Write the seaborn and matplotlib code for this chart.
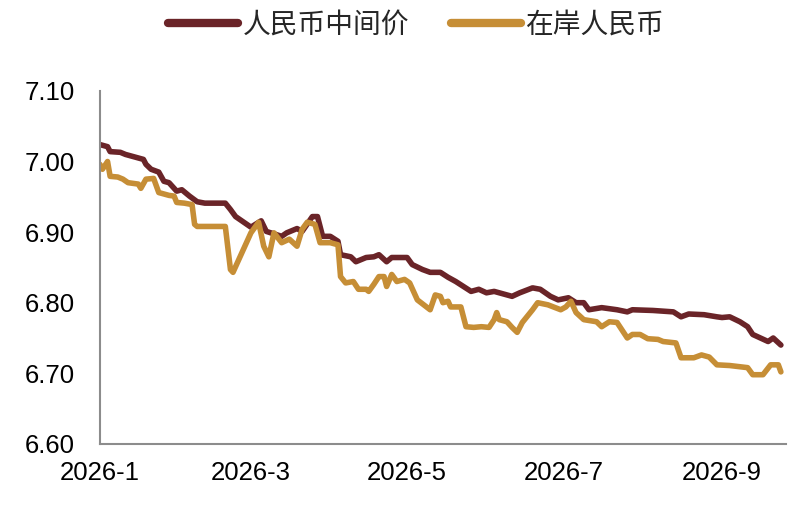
import matplotlib
matplotlib.use("Agg")
import matplotlib.pyplot as plt
import numpy as np
import pandas as pd
import seaborn as sns

# 人民币中间价
mid_dates = ['2026-01-01', '2026-01-04', '2026-01-05', '2026-01-09', '2026-01-11', '2026-01-14',
             '2026-01-18', '2026-01-19', '2026-01-21', '2026-01-24', '2026-01-26', '2026-01-28',
             '2026-01-31', '2026-02-02', '2026-02-05', '2026-02-08', '2026-02-11', '2026-02-19',
             '2026-02-21', '2026-02-23', '2026-03-01', '2026-03-05', '2026-03-07', '2026-03-13',
             '2026-03-15', '2026-03-19', '2026-03-21', '2026-03-25', '2026-03-27', '2026-03-29',
             '2026-04-01', '2026-04-04', '2026-04-05', '2026-04-09', '2026-04-11', '2026-04-15',
             '2026-04-18', '2026-04-20', '2026-04-23', '2026-04-25', '2026-05-01', '2026-05-03',
             '2026-05-07', '2026-05-10', '2026-05-14', '2026-05-17', '2026-05-20', '2026-05-23',
             '2026-05-26', '2026-05-29', '2026-06-01', '2026-06-04', '2026-06-06', '2026-06-11',
             '2026-06-14', '2026-06-19', '2026-06-22', '2026-06-26', '2026-06-29', '2026-07-03',
             '2026-07-06', '2026-07-09', '2026-07-11', '2026-07-16', '2026-07-22', '2026-07-26',
             '2026-07-28', '2026-08-05', '2026-08-13', '2026-08-16', '2026-08-19', '2026-08-25',
             '2026-08-30', '2026-09-01', '2026-09-04', '2026-09-08', '2026-09-11', '2026-09-13',
             '2026-09-16', '2026-09-19', '2026-09-21', '2026-09-24']
mid_values = [7.024, 7.021, 7.014, 7.013, 7.010, 7.007,
              7.003, 6.996, 6.989, 6.985, 6.972, 6.970,
              6.958, 6.960, 6.951, 6.943, 6.941, 6.941,
              6.932, 6.922, 6.907, 6.916, 6.901, 6.894,
              6.899, 6.905, 6.901, 6.922, 6.922, 6.894,
              6.894, 6.887, 6.868, 6.865, 6.858, 6.864,
              6.865, 6.868, 6.858, 6.864, 6.864, 6.854,
              6.847, 6.843, 6.843, 6.836, 6.830, 6.823,
              6.816, 6.819, 6.814, 6.816, 6.814, 6.809,
              6.814, 6.821, 6.819, 6.809, 6.804, 6.807,
              6.800, 6.800, 6.790, 6.793, 6.790, 6.787,
              6.790, 6.789, 6.787, 6.780, 6.784, 6.783,
              6.780, 6.779, 6.780, 6.773, 6.766, 6.755,
              6.750, 6.745, 6.750, 6.740]

# 在岸人民币
onshore_dates = ['2026-01-01', '2026-01-02', '2026-01-04', '2026-01-05', '2026-01-08', '2026-01-10',
                 '2026-01-12', '2026-01-16', '2026-01-17', '2026-01-19', '2026-01-22', '2026-01-24',
                 '2026-01-28', '2026-01-30', '2026-01-31', '2026-02-03', '2026-02-06', '2026-02-07',
                 '2026-02-08', '2026-02-19', '2026-02-21', '2026-02-22', '2026-03-01', '2026-03-04',
                 '2026-03-06', '2026-03-08', '2026-03-10', '2026-03-13', '2026-03-16', '2026-03-19',
                 '2026-03-21', '2026-03-23', '2026-03-26', '2026-03-28', '2026-04-01', '2026-04-04',
                 '2026-04-05', '2026-04-07', '2026-04-10', '2026-04-12', '2026-04-15', '2026-04-16',
                 '2026-04-18', '2026-04-20', '2026-04-22', '2026-04-23', '2026-04-25', '2026-04-27',
                 '2026-04-30', '2026-05-02', '2026-05-05', '2026-05-10', '2026-05-12', '2026-05-14',
                 '2026-05-15', '2026-05-17', '2026-05-18', '2026-05-22', '2026-05-24', '2026-05-27',
                 '2026-05-30', '2026-06-02', '2026-06-04', '2026-06-05', '2026-06-06', '2026-06-09',
                 '2026-06-11', '2026-06-13', '2026-06-15', '2026-06-19', '2026-06-21', '2026-06-25',
                 '2026-06-30', '2026-07-02', '2026-07-04', '2026-07-06', '2026-07-09', '2026-07-14',
                 '2026-07-16', '2026-07-19', '2026-07-22', '2026-07-26', '2026-07-28', '2026-07-31',
                 '2026-08-03', '2026-08-07', '2026-08-09', '2026-08-14', '2026-08-16', '2026-08-21',
                 '2026-08-24', '2026-08-27', '2026-08-30', '2026-09-04', '2026-09-11', '2026-09-13',
                 '2026-09-17', '2026-09-20', '2026-09-23', '2026-09-24']
onshore_values = [6.996, 6.989, 7.000, 6.979, 6.978, 6.975,
                  6.970, 6.968, 6.962, 6.975, 6.976, 6.956,
                  6.952, 6.951, 6.942, 6.941, 6.939, 6.911,
                  6.908, 6.908, 6.847, 6.843, 6.899, 6.914,
                  6.880, 6.865, 6.899, 6.885, 6.890, 6.880,
                  6.904, 6.914, 6.911, 6.885, 6.885, 6.882,
                  6.837, 6.828, 6.830, 6.819, 6.819, 6.816,
                  6.826, 6.837, 6.837, 6.823, 6.840, 6.830,
                  6.833, 6.828, 6.804, 6.790, 6.811, 6.809,
                  6.800, 6.802, 6.794, 6.794, 6.766, 6.765,
                  6.766, 6.765, 6.776, 6.786, 6.776, 6.773,
                  6.765, 6.758, 6.772, 6.790, 6.800, 6.797,
                  6.790, 6.794, 6.802, 6.786, 6.776, 6.773,
                  6.766, 6.773, 6.772, 6.750, 6.755, 6.755,
                  6.749, 6.748, 6.745, 6.743, 6.722, 6.722,
                  6.726, 6.723, 6.712, 6.711, 6.708, 6.698,
                  6.698, 6.712, 6.712, 6.702]

xtick_dates = ['2026-01-01', '2026-03-01', '2026-05-01', '2026-07-01', '2026-09-01']
xtick_labels = ['2026-1', '2026-3', '2026-5', '2026-7', '2026-9']
ytick_values = [6.60, 6.70, 6.80, 6.90, 7.00, 7.10]

#%%
df_mid = pd.DataFrame({'date': pd.to_datetime(mid_dates), 'value': mid_values})
df_on = pd.DataFrame({'date': pd.to_datetime(onshore_dates), 'value': onshore_values})

sns.set_style('white')
plt.rcParams['font.family'] = ['Liberation Sans', 'Noto Sans CJK SC', 'DejaVu Sans']

fig = plt.figure(figsize=(8.12, 5.05), dpi=100)
ax = fig.add_axes([0.123, 0.121, 0.845, 0.699])

sns.lineplot(data=df_mid, x='date', y='value', ax=ax, color='#6A2428', lw=4, label='人民币中间价')
sns.lineplot(data=df_on, x='date', y='value', ax=ax, color='#C68E36', lw=4, label='在岸人民币')

ax.set_xlim(pd.Timestamp('2026-01-01'), pd.Timestamp('2026-09-26'))
ax.set_ylim(6.60, 7.10)
ax.set_yticks(ytick_values)
ax.set_yticklabels(['%.2f' % v for v in ytick_values])
ax.set_xticks(pd.to_datetime(xtick_dates))
ax.set_xticklabels(xtick_labels)
ax.set_xlabel('')
ax.set_ylabel('')

for s in ['top', 'right']:
    ax.spines[s].set_visible(False)
for s in ['left', 'bottom']:
    ax.spines[s].set_color('#8C8C8C')
    ax.spines[s].set_linewidth(1.5)

ax.tick_params(axis='x', length=5, width=1.5, color='#8C8C8C', pad=7, labelsize=18.5, labelcolor='black')
ax.tick_params(axis='y', length=0, pad=18, labelsize=18.5, labelcolor='black')
ax.grid(False)

ax.get_legend().remove()
h, l = ax.get_legend_handles_labels()
fig.legend(h, l, loc='center', bbox_to_anchor=(0.513, 0.952), ncol=2, frameon=False,
           fontsize=20, handlelength=2.5, handletextpad=0.2, columnspacing=1.5,
           prop={'family': ['Noto Sans CJK SC', 'DejaVu Sans'], 'size': 20})
for line in fig.legends[0].get_lines():
    line.set_linewidth(6)

fig.savefig('out.png', dpi=100)
